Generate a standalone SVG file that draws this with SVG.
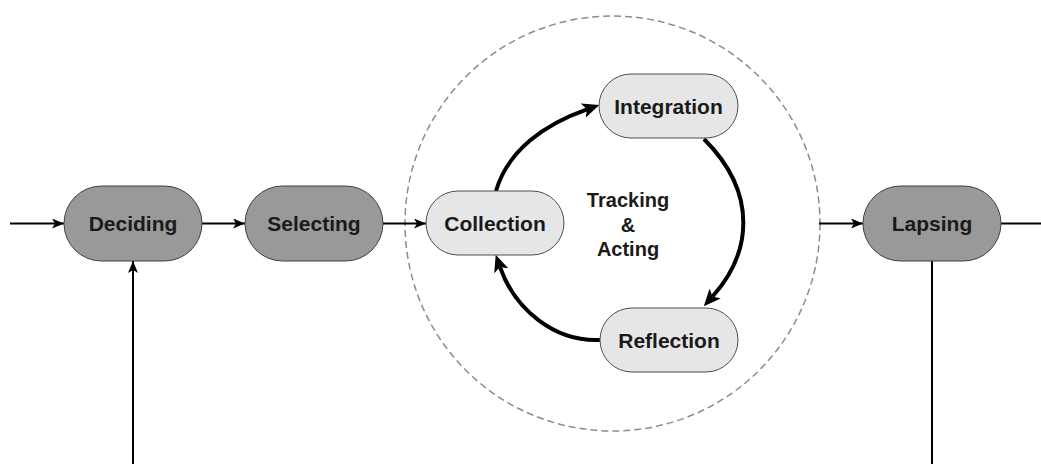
<svg xmlns="http://www.w3.org/2000/svg" width="1041" height="464" viewBox="0 0 1041 464">
<style>
.dark{fill:#999999;stroke:#314354;stroke-width:1}
.light{fill:#e6e6e6;stroke:#4d4d4d;stroke-width:1}
.lbl{font-family:"Liberation Sans",Arial,sans-serif;font-weight:bold;font-size:21px;fill:#1a1a1a;text-anchor:middle}
.mid{font-family:"Liberation Sans",Arial,sans-serif;font-weight:bold;font-size:20px;fill:#1a1a1a;text-anchor:middle}
.thin{fill:none;stroke:#000;stroke-width:2}
.thick{fill:none;stroke:#000;stroke-width:4}
</style>
<defs>
<marker id="a" viewBox="0 0 12 10" refX="12" refY="5" markerWidth="12" markerHeight="10" markerUnits="userSpaceOnUse" orient="auto">
<path d="M0,0 L12,5 L0,10 L3,5 z" fill="#000"/>
</marker>
<marker id="b" viewBox="0 0 17 15" refX="4" refY="7.5" markerWidth="17" markerHeight="15" markerUnits="userSpaceOnUse" orient="auto">
<path d="M0,0 L17,7.5 L0,15 L4,7.5 z" fill="#000"/>
</marker>
</defs>
<circle id="group" cx="612.5" cy="223.5" r="207.5" fill="none" stroke="#8c8c8c" stroke-width="1.5" stroke-dasharray="7 4"/>
<g id="connectors">
<line class="thin" x1="10" y1="223.5" x2="64" y2="223.5" marker-end="url(#a)"/>
<line class="thin" x1="202" y1="223.5" x2="245" y2="223.5" marker-end="url(#a)"/>
<line class="thin" x1="383" y1="223.5" x2="426" y2="223.5" marker-end="url(#a)"/>
<line class="thin" x1="819" y1="223.5" x2="863" y2="223.5" marker-end="url(#a)"/>
<line class="thin" x1="1001" y1="223.5" x2="1041" y2="223.5"/>
<line class="thin" x1="133" y1="464" x2="133" y2="261" marker-end="url(#a)"/>
<line class="thin" x1="932" y1="261" x2="932" y2="464"/>
<path class="thick" d="M496,191 C508,150 545,124 587,109.3" marker-end="url(#b)"/>
<path class="thick" d="M704,139 C760,195 750,255 712.5,296.5" marker-end="url(#b)"/>
<path class="thick" d="M600,340 C555,342 515,310 500,267" marker-end="url(#b)"/>
</g>
<g id="deciding"><rect class="dark" x="64" y="186" width="138" height="75" rx="37.5"/><text class="lbl" x="133" y="231">Deciding</text></g>
<g id="selecting"><rect class="dark" x="245" y="186" width="138" height="75" rx="37.5"/><text class="lbl" x="314" y="231">Selecting</text></g>
<g id="lapsing"><rect class="dark" x="863" y="186" width="138" height="75" rx="37.5"/><text class="lbl" x="932" y="231">Lapsing</text></g>
<g id="collection"><rect class="light" x="426" y="191" width="138" height="64" rx="32"/><text class="lbl" x="495" y="230.5">Collection</text></g>
<g id="integration"><rect class="light" x="599" y="74" width="139" height="64" rx="32"/><text class="lbl" x="668.5" y="113.5">Integration</text></g>
<g id="reflection"><rect class="light" x="600" y="308" width="138" height="64" rx="32"/><text class="lbl" x="669" y="347.5">Reflection</text></g>
<g id="center-label"><text class="mid" x="628" y="207">Tracking</text><text class="mid" x="628" y="232">&amp;</text><text class="mid" x="628" y="256">Acting</text></g>
</svg>
